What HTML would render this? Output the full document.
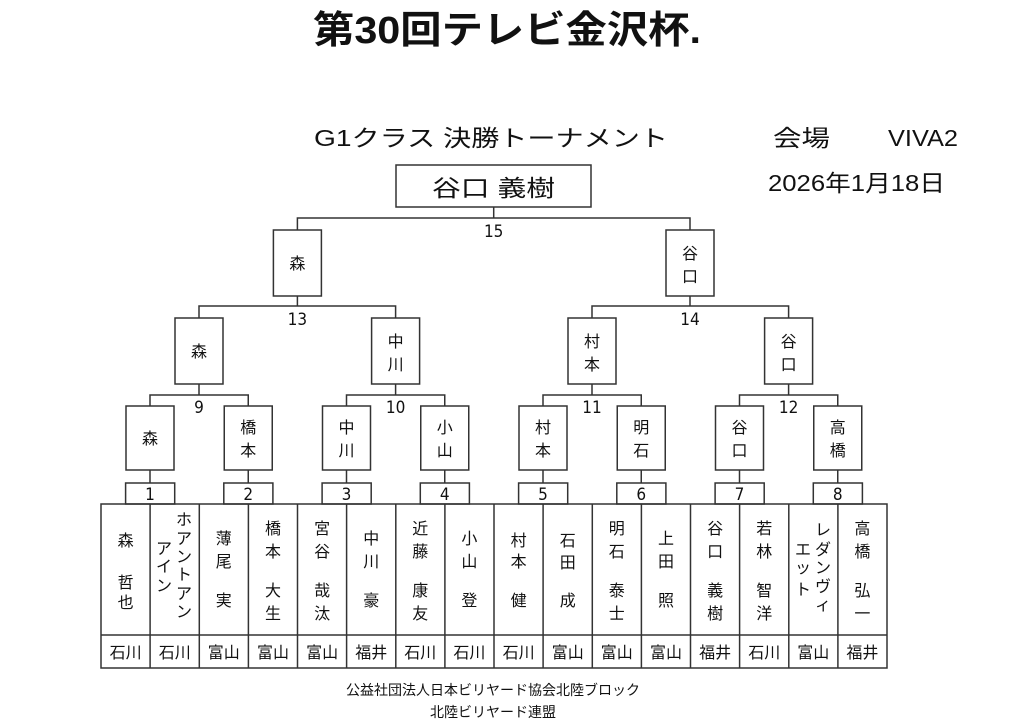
<!DOCTYPE html>
<html><head><meta charset="utf-8"><style>
html,body{margin:0;padding:0;background:#fff;}
svg{display:block;}
text{font-family:"Liberation Sans","Noto Sans CJK JP",sans-serif;fill:#111;}
.num{font-family:"DejaVu Sans Condensed","Liberation Sans Narrow","Liberation Sans",sans-serif;}
</style></head><body>
<svg width="1024" height="724" viewBox="0 0 1024 724" xmlns="http://www.w3.org/2000/svg">
<g stroke="#333" stroke-width="1.5" fill="none">
<rect x="396" y="165" width="195" height="42"/>
<line x1="493.7" y1="207" x2="493.7" y2="218"/>
<polyline points="297.4,230 297.4,218 690,218 690,230"/>
<rect x="273.4" y="230" width="48" height="66"/>
<rect x="666" y="230" width="48" height="66"/>
<line x1="297.4" y1="296" x2="297.4" y2="306"/>
<line x1="690" y1="296" x2="690" y2="306"/>
<polyline points="199,318 199,306 395.6,306 395.6,318"/>
<polyline points="592,318 592,306 788.6,306 788.6,318"/>
<rect x="175" y="318" width="48" height="66"/>
<rect x="371.6" y="318" width="48" height="66"/>
<rect x="568" y="318" width="48" height="66"/>
<rect x="764.6" y="318" width="48" height="66"/>
<line x1="199" y1="384" x2="199" y2="395"/>
<line x1="395.6" y1="384" x2="395.6" y2="395"/>
<line x1="592" y1="384" x2="592" y2="395"/>
<line x1="788.6" y1="384" x2="788.6" y2="395"/>
<polyline points="150,406 150,395 248.25,395 248.25,406"/>
<polyline points="346.5,406 346.5,395 444.75,395 444.75,406"/>
<polyline points="543,406 543,395 641.25,395 641.25,406"/>
<polyline points="739.5,406 739.5,395 837.75,395 837.75,406"/>
<rect x="126" y="406" width="48" height="64"/>
<rect x="224.25" y="406" width="48" height="64"/>
<rect x="322.5" y="406" width="48" height="64"/>
<rect x="420.75" y="406" width="48" height="64"/>
<rect x="519" y="406" width="48" height="64"/>
<rect x="617.25" y="406" width="48" height="64"/>
<rect x="715.5" y="406" width="48" height="64"/>
<rect x="813.75" y="406" width="48" height="64"/>
<line x1="150" y1="470" x2="150" y2="483"/>
<line x1="248.25" y1="470" x2="248.25" y2="483"/>
<line x1="346.5" y1="470" x2="346.5" y2="483"/>
<line x1="444.75" y1="470" x2="444.75" y2="483"/>
<line x1="543" y1="470" x2="543" y2="483"/>
<line x1="641.25" y1="470" x2="641.25" y2="483"/>
<line x1="739.5" y1="470" x2="739.5" y2="483"/>
<line x1="837.75" y1="470" x2="837.75" y2="483"/>
<rect x="125.6" y="483" width="49.1" height="21"/>
<rect x="223.8" y="483" width="49.1" height="21"/>
<rect x="322.1" y="483" width="49.1" height="21"/>
<rect x="420.3" y="483" width="49.1" height="21"/>
<rect x="518.6" y="483" width="49.1" height="21"/>
<rect x="616.8" y="483" width="49.1" height="21"/>
<rect x="715.1" y="483" width="49.1" height="21"/>
<rect x="813.3" y="483" width="49.1" height="21"/>
<rect x="101" y="504" width="786" height="164"/>
<line x1="101" y1="635" x2="887" y2="635"/>
<line x1="150.1" y1="504" x2="150.1" y2="668"/>
<line x1="199.3" y1="504" x2="199.3" y2="668"/>
<line x1="248.4" y1="504" x2="248.4" y2="668"/>
<line x1="297.5" y1="504" x2="297.5" y2="668"/>
<line x1="346.6" y1="504" x2="346.6" y2="668"/>
<line x1="395.8" y1="504" x2="395.8" y2="668"/>
<line x1="444.9" y1="504" x2="444.9" y2="668"/>
<line x1="494" y1="504" x2="494" y2="668"/>
<line x1="543.1" y1="504" x2="543.1" y2="668"/>
<line x1="592.3" y1="504" x2="592.3" y2="668"/>
<line x1="641.4" y1="504" x2="641.4" y2="668"/>
<line x1="690.5" y1="504" x2="690.5" y2="668"/>
<line x1="739.6" y1="504" x2="739.6" y2="668"/>
<line x1="788.8" y1="504" x2="788.8" y2="668"/>
<line x1="837.9" y1="504" x2="837.9" y2="668"/>
</g>

<text x="313" y="43" font-size="38" font-weight="bold" textLength="388" lengthAdjust="spacingAndGlyphs">第30回テレビ金沢杯.</text>
<text x="314" y="146" font-size="23" textLength="354" lengthAdjust="spacingAndGlyphs">G1クラス 決勝トーナメント</text>
<text x="773" y="146" font-size="23" textLength="57" lengthAdjust="spacingAndGlyphs">会場</text>
<text x="888" y="146" font-size="23" textLength="70" lengthAdjust="spacingAndGlyphs">VIVA2</text>
<text x="768" y="191" font-size="23" textLength="177" lengthAdjust="spacingAndGlyphs">2026年1月18日</text>
<text x="432" y="196" font-size="23" textLength="123" lengthAdjust="spacingAndGlyphs">谷口 義樹</text>

<g font-size="17" text-anchor="middle" class="num">
<text class="num" x="493.7" y="237">15</text>
<text class="num" x="297.4" y="325">13</text>
<text class="num" x="690" y="325">14</text>
<text class="num" x="199" y="413">9</text>
<text class="num" x="395.6" y="413">10</text>
<text class="num" x="592" y="413">11</text>
<text class="num" x="788.6" y="413">12</text>
<text class="num" x="150" y="500">1</text>
<text class="num" x="248.25" y="500">2</text>
<text class="num" x="346.5" y="500">3</text>
<text class="num" x="444.75" y="500">4</text>
<text class="num" x="543" y="500">5</text>
<text class="num" x="641.25" y="500">6</text>
<text class="num" x="739.5" y="500">7</text>
<text class="num" x="837.75" y="500">8</text>
</g>

<g font-size="16" text-anchor="middle">
<text x="297.4" y="269">森</text>
<text x="690" y="259">谷</text><text x="690" y="282">口</text>
<text x="199" y="357">森</text>
<text x="395.6" y="347">中</text><text x="395.6" y="370">川</text>
<text x="592" y="347">村</text><text x="592" y="370">本</text>
<text x="788.6" y="347">谷</text><text x="788.6" y="370">口</text>
<text x="150" y="444">森</text>
<text x="248.25" y="433">橋</text><text x="248.25" y="456">本</text>
<text x="346.5" y="433">中</text><text x="346.5" y="456">川</text>
<text x="444.75" y="433">小</text><text x="444.75" y="456">山</text>
<text x="543" y="433">村</text><text x="543" y="456">本</text>
<text x="641.25" y="433">明</text><text x="641.25" y="456">石</text>
<text x="739.5" y="433">谷</text><text x="739.5" y="456">口</text>
<text x="837.75" y="433">高</text><text x="837.75" y="456">橋</text>
</g>

<g font-size="16" text-anchor="middle">
<text x="125.6" y="546">森</text><text x="125.6" y="588">哲</text><text x="125.6" y="608">也</text>
<text x="184" y="525">ホ</text><text x="184" y="544">ア</text><text x="184" y="562">ン</text><text x="184" y="580">ト</text><text x="184" y="599">ア</text><text x="184" y="617">ン</text>
<text x="164" y="554">ア</text><text x="164" y="572">イ</text><text x="164" y="591">ン</text>
<text x="223.8" y="544">薄</text><text x="223.8" y="567">尾</text><text x="223.8" y="606">実</text>
<text x="273" y="534">橋</text><text x="273" y="557">本</text><text x="273" y="596">大</text><text x="273" y="619">生</text>
<text x="322.1" y="534">宮</text><text x="322.1" y="557">谷</text><text x="322.1" y="596">哉</text><text x="322.1" y="619">汰</text>
<text x="371.2" y="544">中</text><text x="371.2" y="567">川</text><text x="371.2" y="606">豪</text>
<text x="420.3" y="534">近</text><text x="420.3" y="557">藤</text><text x="420.3" y="596">康</text><text x="420.3" y="619">友</text>
<text x="469.4" y="544">小</text><text x="469.4" y="567">山</text><text x="469.4" y="606">登</text>
<text x="518.6" y="546">村</text><text x="518.6" y="567">本</text><text x="518.6" y="606">健</text>
<text x="567.7" y="546">石</text><text x="567.7" y="568">田</text><text x="567.7" y="606">成</text>
<text x="616.8" y="534">明</text><text x="616.8" y="557">石</text><text x="616.8" y="596">泰</text><text x="616.8" y="619">士</text>
<text x="666" y="544">上</text><text x="666" y="567">田</text><text x="666" y="606">照</text>
<text x="715.1" y="534">谷</text><text x="715.1" y="557">口</text><text x="715.1" y="596">義</text><text x="715.1" y="619">樹</text>
<text x="764.2" y="534">若</text><text x="764.2" y="557">林</text><text x="764.2" y="596">智</text><text x="764.2" y="619">洋</text>
<text x="823" y="535">レ</text><text x="823" y="555">ダ</text><text x="823" y="573">ン</text><text x="823" y="592">ヴ</text><text x="823" y="610">ィ</text>
<text x="803" y="555">エ</text><text x="803" y="573">ッ</text><text x="803" y="595">ト</text>
<text x="862.4" y="534">高</text><text x="862.4" y="557">橋</text><text x="862.4" y="596">弘</text><text x="862.4" y="619">一</text>
</g>

<g font-size="16" text-anchor="middle">
<text x="125.6" y="658">石川</text>
<text x="174.7" y="658">石川</text>
<text x="223.8" y="658">富山</text>
<text x="273" y="658">富山</text>
<text x="322.1" y="658">富山</text>
<text x="371.2" y="658">福井</text>
<text x="420.3" y="658">石川</text>
<text x="469.4" y="658">石川</text>
<text x="518.6" y="658">石川</text>
<text x="567.7" y="658">富山</text>
<text x="616.8" y="658">富山</text>
<text x="666" y="658">富山</text>
<text x="715.1" y="658">福井</text>
<text x="764.2" y="658">石川</text>
<text x="813.3" y="658">富山</text>
<text x="862.4" y="658">福井</text>
</g>

<g font-size="14" text-anchor="middle">
<text x="493" y="695">公益社団法人日本ビリヤード協会北陸ブロック</text>
<text x="493" y="717">北陸ビリヤード連盟</text>
</g>
</svg>
</body></html>
